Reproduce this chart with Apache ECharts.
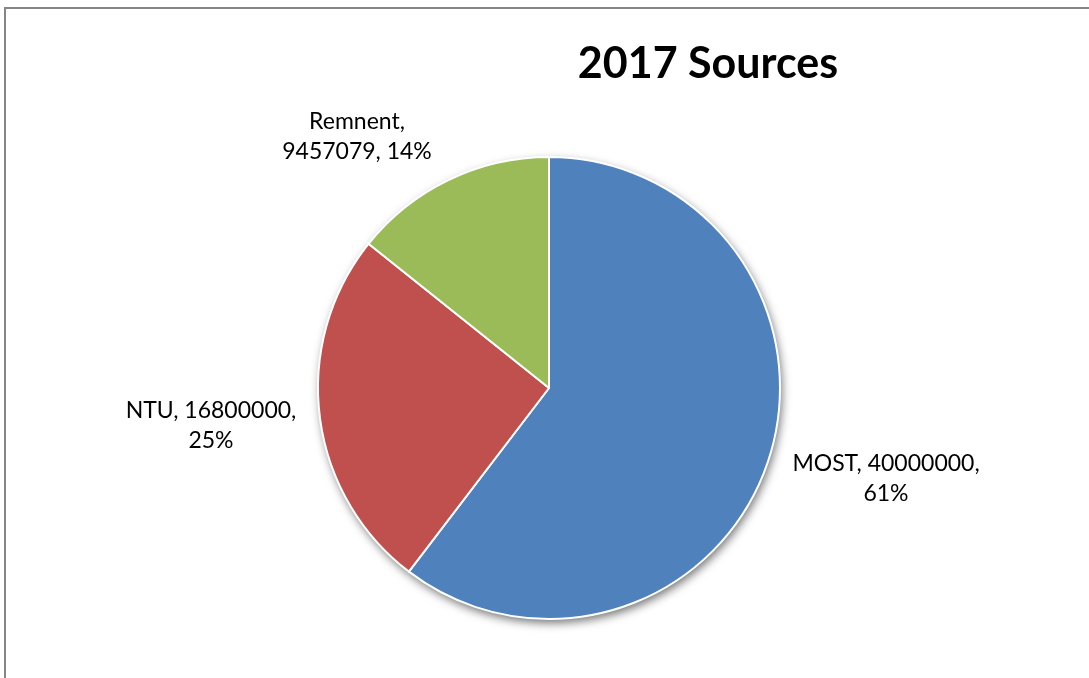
<!DOCTYPE html>
<html>
<head>
<meta charset="utf-8">
<script src="https://cdn.jsdelivr.net/npm/echarts@6/dist/echarts.min.js"></script>
<style>
  html, body { margin: 0; padding: 0; background: #fff; overflow: hidden; }
  #frame { position: absolute; left: 4px; top: 7px; width: 1200px; height: 800px;
           border-left: 2px solid #868686; border-top: 2px solid #868686; box-sizing: border-box; }
  #chart { position: absolute; left: 0; top: 0; width: 1089px; height: 678px; }
</style>
</head>
<body>
<div id="frame"></div>
<div id="chart"></div>
<script>
const categories = ['MOST', 'NTU', 'Remnent'];
const values = [40000000, 16800000, 9457079];
const percentLabels = ['61%', '25%', '14%'];
const colors = ['#4F81BD', '#C0504D', '#9BBB59'];

const labelPos = [
  { x: 886, y: 479 },
  { x: 211, y: 426 },
  { x: 357, y: 137 }
];
const lineBreakAfterValue = [false, false, true];

const chart = echarts.init(document.getElementById('chart'), null, { renderer: 'canvas' });
const total = values.reduce((a, b) => a + b, 0);

chart.setOption({
  animation: false,
  title: {
    text: '2017 Sources',
    left: 703,
    top: 38,
    textAlign: 'center',
    textStyle: { fontFamily: 'Lato', fontWeight: 'bold', fontSize: 43, color: '#000' }
  },
  series: [
    {
      type: 'pie',
      silent: true,
      center: [549, 388],
      radius: 231,
      z: 1,
      label: { show: false },
      labelLine: { show: false },
      itemStyle: {
        color: '#4F81BD',
        shadowBlur: 10,
        shadowColor: 'rgba(0,0,0,0.55)',
        shadowOffsetX: 2,
        shadowOffsetY: 4
      },
      data: [{ value: total, name: 'shadow' }]
    },
    {
      type: 'pie',
      center: [549, 388],
      radius: 231,
      startAngle: 90,
      clockwise: true,
      z: 2,
      itemStyle: { borderColor: '#fff', borderWidth: 2 },
      label: {
        show: true,
        position: 'outside',
        fontFamily: 'Lato',
        fontSize: 23,
        lineHeight: 30,
        color: '#000',
        align: 'center',
        formatter: function (p) {
          const i = p.dataIndex;
          return lineBreakAfterValue[i]
            ? categories[i] + ',\n' + values[i] + ', ' + percentLabels[i]
            : categories[i] + ', ' + values[i] + ',\n' + percentLabels[i];
        }
      },
      labelLine: { show: false },
      labelLayout: function (params) {
        const p = labelPos[params.dataIndex];
        return { x: p.x, y: p.y, align: 'center', verticalAlign: 'middle' };
      },
      data: categories.map((c, i) => ({ name: c, value: values[i], itemStyle: { color: colors[i] } }))
    }
  ]
});
</script>
</body>
</html>
